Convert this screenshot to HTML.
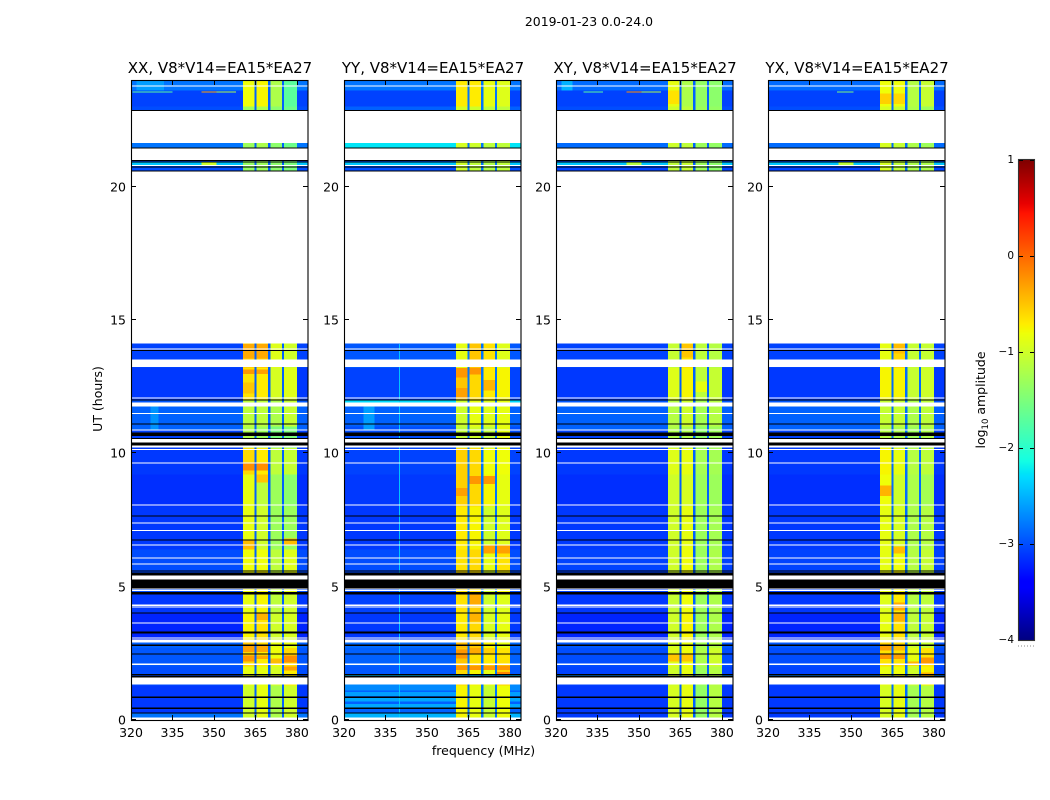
<!DOCTYPE html>
<html lang="en">
<head>
<meta charset="utf-8">
<title>2019-01-23 0.0-24.0</title>
<style>
html,body{margin:0;padding:0;background:#fff;width:1050px;height:800px;overflow:hidden}
svg{display:block}
text{font-family:"DejaVu Sans","Liberation Sans",sans-serif;fill:#000}
</style>
</head>
<body>
<svg id="figure" xmlns="http://www.w3.org/2000/svg" width="1050" height="800" viewBox="0 0 1050 800"></svg>
<script>
const panelTitles = ['XX, V8*V14=EA15*EA27', 'YY, V8*V14=EA15*EA27', 'XY, V8*V14=EA15*EA27', 'YX, V8*V14=EA15*EA27'];
const panelNames = ['xx', 'yy', 'xy', 'yx'];
const xTicks = [320, 335, 350, 365, 380];
const yTicks = [0, 5, 10, 15, 20];
const colorTicks = [1, 0, -1, -2, -3, -4];

// Frequency bands (MHz): background, four bright sub-bands, background
const bandEdges = [320, 360.5, 365, 370, 375, 380, 384];
const bandColumn = [0, 1, 2, 3, 4, 0];
const gapChannels = [365, 370, 375];
const gapAmps = [-2.9, -2.8, -2.9, -2.85];

// Time blocks (hours)
const timeEdges = [0, 1.3, 2.0, 2.7, 3.0, 4.0, 4.8, 5.6, 6.4, 8.0, 9.2, 10.2, 11, 12, 13.2, 14.2, 20.5, 21.5, 23, 24];

// log10 amplitude per time block: [background, band1, band2, band3, band4]
const ampXX = [
 [-3.1,-1.0,-.85,-1.2,-1.0],[-3.0,-.85,-.85,-.95,-.7],[-2.95,-.6,-.7,-.8,-.6],[-2.9,-.5,-.6,-.85,-.85],
 [-3.2,-.75,-.65,-1.0,-.95],[-3.1,-.85,-.75,-1.1,-1.0],[-3.0,-.8,-.75,-1.1,-.85],[-3.0,-.8,-.8,-1.1,-.9],
 [-3.1,-.85,-1.0,-1.3,-1.3],[-3.15,-.85,-1.1,-1.3,-1.4],[-3.1,-.6,-.7,-1.1,-1.05],[-3.05,-1.2,-1.3,-1.5,-1.5],
 [-2.95,-1.1,-1.1,-1.2,-1.05],[-3.1,-.65,-.7,-.95,-.9],[-3.05,-.55,-.55,-.9,-1.0],[-3,-3,-3,-3,-3],
 [-3.0,-1.35,-1.3,-1.4,-1.5],[-3.0,-1.3,-1.2,-1.4,-1.6],[-3.05,-.8,-.75,-1.2,-1.7]];
const ampYY = [
 [-2.9,-.75,-.85,-1.05,-.8],[-2.95,-.6,-.75,-.85,-.55],[-2.9,-.5,-.65,-.7,-.65],[-2.85,-.45,-.5,-.75,-.85],
 [-3.1,-.7,-.6,-.95,-.85],[-3.05,-.65,-.55,-1.0,-.9],[-3.0,-.65,-.65,-1.0,-.75],[-3.0,-.65,-.6,-.85,-.65],
 [-3.1,-.7,-.75,-1.0,-.9],[-3.1,-.55,-.6,-.75,-.85],[-3.05,-.55,-.6,-.8,-.8],[-3.0,-1.1,-1.0,-1.1,-.85],
 [-2.9,-1.0,-.85,-.9,-.85],[-3.05,-.5,-.6,-.7,-.75],[-2.95,-.85,-.5,-.65,-.9],[-3,-3,-3,-3,-3],
 [-3.0,-1.0,-1.1,-1.2,-1.1],[-2.9,-.95,-1.0,-1.1,-1.1],[-3.05,-.7,-.7,-.85,-.9]];
const ampXY = [
 [-3.1,-.95,-.85,-1.35,-1.15],[-3.05,-1.0,-.85,-1.3,-1.15],[-3.0,-.9,-.8,-1.2,-1.0],[-2.95,-.95,-.85,-1.25,-1.15],
 [-3.2,-1.0,-.75,-1.3,-1.2],[-3.1,-1.05,-.8,-1.3,-1.2],[-3.05,-1.0,-.8,-1.25,-1.2],[-3.05,-1.0,-.8,-1.3,-1.2],
 [-3.1,-1.0,-.85,-1.3,-1.25],[-3.15,-1.0,-.95,-1.3,-1.3],[-3.1,-.9,-.85,-1.25,-1.25],[-3.05,-1.2,-1.2,-1.4,-1.3],
 [-2.95,-1.15,-1.0,-1.25,-1.15],[-3.1,-.9,-.75,-1.1,-1.05],[-3.05,-1.05,-.65,-1.1,-1.15],[-3,-3,-3,-3,-3],
 [-3.05,-1.1,-1.05,-1.3,-1.4],[-3.0,-1.0,-1.1,-1.3,-1.35],[-3.05,-.85,-1.2,-1.35,-1.4]];
const ampYX = [
 [-3.1,-.95,-.85,-1.25,-1.15],[-3.05,-.85,-.8,-1.0,-.75],[-3.0,-.65,-.65,-.85,-.65],[-2.95,-.55,-.6,-1.0,-1.05],
 [-3.2,-.85,-.65,-1.1,-1.05],[-3.1,-.9,-.7,-1.15,-1.1],[-3.05,-.85,-.75,-1.15,-1.1],[-3.05,-.85,-.8,-1.15,-1.05],
 [-3.1,-.85,-.95,-1.2,-1.15],[-3.15,-.8,-1.0,-1.2,-1.25],[-3.1,-.75,-.85,-1.15,-1.1],[-3.05,-1.15,-1.2,-1.3,-1.2],
 [-2.95,-1.05,-1.05,-1.2,-1.1],[-3.1,-.75,-.75,-1.05,-1.0],[-3.05,-.85,-.6,-1.05,-1.05],[-3,-3,-3,-3,-3],
 [-3.05,-.95,-1.1,-1.2,-1.2],[-3.0,-.95,-1.05,-1.2,-1.3],[-3.05,-.8,-.8,-1.15,-1.05]];
const panelAmps = [ampXX, ampYY, ampXY, ampYX];

// Localised features: [freq1, freq2, hour1, hour2, log10 amplitude]
const patchesXX = [
 [360.5,365,2.55,2.78,-.3],[365,370,2.55,2.78,-.35],[360.5,365,2.2,2.42,-.25],[365,370,2.28,2.42,-.35],
 [370,375,2.1,2.3,-.45],[375,380,2.15,2.42,-.2],[375,380,1.85,2.0,-.3],[365,370,3.75,4.0,-.4],
 [360.5,365,13.55,14.1,-.35],[365,370,13.55,14.1,-.35],[360.5,365,12.98,13.15,-.25],[365,370,12.98,13.15,-.3],
 [360.5,365,12.25,12.65,-.5],[360.5,365,9.35,9.65,-.2],[365,370,9.35,9.65,-.2],[365,370,8.9,9.2,-.5],
 [360.5,365,6.4,6.75,-.45],[375,380,6.55,6.8,-.45],[327,330,10.85,11.8,-2.65],[322,332,23.6,24,-2.6],
 [345.5,351,20.82,20.9,-1.0],[320.5,335,23.53,23.57,-1.7],[345.5,351,23.53,23.57,-.3],[351,358,23.53,23.57,-1.2]];
const patchesYY = [
 [360.5,365,12.85,13.2,-.25],[365,370,12.95,13.2,-.25],[360.5,365,12.1,12.45,-.3],[370,375,12.35,12.75,-.4],
 [360.5,365,8.4,8.7,-.3],[365,370,8.85,9.15,-.25],[370,375,8.85,9.15,-.25],[370,375,6.25,6.55,-.3],[375,380,6.25,6.55,-.3],
 [360.5,380,1.88,2.05,-.25],[375,380,1.6,1.8,-.15],[360.5,365,2.3,2.65,-.25],[365,370,3.7,4.0,-.4],[365,370,4.3,4.7,-.35],
 [365,370,2.5,2.7,-.35],[370,375,2.5,2.7,-.55],[339.8,340.2,0.1,14.1,-2.4],[327,331,10.85,11.8,-2.6],[320,384,1.6,1.72,-2.4]];
const patchesXY = [
 [360.5,365,2.2,2.5,-.5],[365,370,2.2,2.5,-.5],[365,370,13.6,14.1,-.5],[360.5,365,23.1,23.6,-.65],
 [345.5,351,20.82,20.9,-1.15],[322,326,23.6,24,-2.5],[370,375,12.3,12.7,-.85],[330,337,23.53,23.57,-1.7],[345.5,351,23.53,23.57,-.2],[351,358,23.53,23.57,-1.2]];
const patchesYX = [
 [360.5,365,2.6,2.82,-.3],[365,370,2.6,2.82,-.45],[360.5,365,2.28,2.48,-.25],[365,370,2.28,2.48,-.3],
 [375,380,2.1,2.35,-.25],[370,375,2.05,2.2,-.4],[375,380,1.62,1.78,-.4],[365,370,4.1,4.4,-.35],[365,370,3.7,4.0,-.4],
 [360.5,365,8.4,8.8,-.4],[365,370,13.75,14.1,-.45],[365,370,6.25,6.5,-.45],[360.5,365,23.1,23.5,-.55],[365,370,23.1,23.5,-.6],
 [345.5,351,20.82,20.9,-1.1],[345,351,23.53,23.57,-1.5]];
const panelPatches = [patchesXX, patchesYY, patchesXY, patchesYX];

// Row tints that cross the background: [hour1, hour2, log10 amplitude]
const rowTintsXX = [[10.85,11.78,-2.9],[20.82,20.9,-2.4],[21.45,21.66,-2.8],[23.6,24,-2.8],[0.1,0.25,-2.8]];
const rowTintsYY = [[0.1,0.27,-2.5],[0.45,0.6,-2.55],[0.7,0.85,-2.55],[0.9,1.05,-2.6],[1.1,1.33,-2.7],[11.9,12,-2.3],[21.45,21.66,-2.25],[20.82,20.9,-2.4],[23.6,24,-2.8]];
const rowTintsXY = [[10.85,11.78,-2.9],[20.82,20.9,-2.4],[21.45,21.66,-2.85],[23.6,24,-2.85],[1.6,1.72,-2.7]];
const rowTintsYX = [[10.85,11.78,-2.9],[20.82,20.9,-2.4],[21.45,21.66,-2.85],[23.6,24,-2.85],[1.6,1.72,-2.75]];
const panelRowTints = [rowTintsXX, rowTintsYY, rowTintsXY, rowTintsYX];

// Flagged time ranges shared by every panel
const blackBands = [
 [.25,.29],[.42,.46],[.83,.89],[1.6,1.67],[1.69,1.73],[2.45,2.49],[2.78,2.83],[3.25,3.31],[4.0,4.04],
 [4.71,4.8],[4.93,5.27],[5.42,5.53],[5.56,5.6],[6.73,6.77],[7.63,7.67],[10.29,10.41],[10.54,10.58],[10.65,10.79],
 [11.08,11.12],[11.98,12.02],[13.83,13.87],[20.56,20.61],[20.71,20.75],[20.9,20.94],[20.96,21.0],[21.43,21.47],[22.83,22.87]];
const whiteBands = [
 [0,.09],[1.33,1.59],[2.06,2.11],[2.9,3.02],[3.06,3.1],[3.61,3.65],[4.21,4.25],[4.27,4.33],[4.83,4.87],[4.9,4.93],
 [5.27,5.42],[5.83,5.87],[6.06,6.1],[6.55,6.59],[7.09,7.13],[7.37,7.41],[8.05,8.09],[9.62,9.66],[10.12,10.16],
 [10.21,10.29],[10.41,10.54],[10.86,10.9],[11.47,11.51],[11.76,11.9],[12.06,12.1],[13.24,13.51],[13.89,13.93],
 [14.11,20.56],[20.78,20.82],[21.0,21.43],[21.64,21.68],[21.68,22.83],[23.76,23.8]];

const panelLefts = [131, 344, 556, 768];
const panelWidth = 177;
const plotTop = 80;
const plotBottom = 720;
const freqMin = 320, freqMax = 384, hourMin = 0, hourMax = 24;
const colorMin = -4, colorMax = 1;

// Matplotlib "jet" colormap control points: [position, level]
const jetRed = [[0,0],[.35,0],[.66,1],[.89,1],[1,.5]];
const jetGreen = [[0,0],[.125,0],[.375,1],[.64,1],[.91,0],[1,0]];
const jetBlue = [[0,.5],[.11,1],[.34,1],[.65,0],[1,0]];

const SVG_NS = 'http://www.w3.org/2000/svg';
const fig = document.getElementById('figure');

function xScale(left, f){ return left + (f - freqMin) / (freqMax - freqMin) * panelWidth; }
function yScale(h){ return plotBottom - (h - hourMin) / (hourMax - hourMin) * (plotBottom - plotTop); }
function clamp01(v){ return Math.max(0, Math.min(1, v)); }
function interp(points, t){
  for (let i = 1; i < points.length; i++) {
    if (t <= points[i][0]) {
      const a = points[i-1], b = points[i];
      return a[1] + (b[1] - a[1]) * (t - a[0]) / (b[0] - a[0]);
    }
  }
  return points[points.length-1][1];
}
function jet(v){
  const t = clamp01((v - colorMin) / (colorMax - colorMin));
  return 'rgb(' + Math.round(interp(jetRed, t)*255) + ',' + Math.round(interp(jetGreen, t)*255) + ',' + Math.round(interp(jetBlue, t)*255) + ')';
}
function make(tag, attrs, parent){
  const el = document.createElementNS(SVG_NS, tag);
  for (const k in attrs) el.setAttribute(k, attrs[k]);
  (parent || fig).appendChild(el);
  return el;
}
function band(parent, left, f1, f2, h1, h2, fill){
  const x1 = xScale(left, f1), x2 = xScale(left, f2);
  const y1 = yScale(Math.max(h1, h2)), y2 = yScale(Math.min(h1, h2));
  return make('rect', {x: x1, y: y1, width: x2 - x1, height: Math.max(y2 - y1, 1), fill: fill, 'shape-rendering': 'crispEdges'}, parent);
}
function label(parent, x, y, str, size, anchor){
  const el = make('text', {x: x, y: y, 'font-size': size, 'text-anchor': anchor}, parent);
  el.textContent = String(str).replace('-', '\u2212');
  return el;
}

panelTitles.forEach(function(titleText, p){
  const left = panelLefts[p];
  const amps = panelAmps[p];
  const g = make('g', {});
  
  

  // time-block × band cells
  amps.forEach(function(row, b){
    bandColumn.forEach(function(col, c){
      const cell = band(g, left, bandEdges[c], bandEdges[c+1], timeEdges[b], timeEdges[b+1], jet(row[col]));
      
      
    });
  });
  // row tints across the background channels only
  panelRowTints[p].forEach(function(t){
    [[bandEdges[0], bandEdges[1]], [bandEdges[5], bandEdges[6]]].forEach(function(span){
      const el = band(g, left, span[0], span[1], t[0], t[1], jet(t[2]));
      
      
    });
  });
  // localised features
  panelPatches[p].forEach(function(q){
    const el = band(g, left, q[0], q[1], q[2], q[3], jet(q[4]));
    
    
  });
  // dark channel gaps
  gapChannels.forEach(function(f){
    const el = band(g, left, f - 0.4, f + 0.4, hourMin, hourMax, jet(gapAmps[p]));
    
    
  });
  // flagged rows
  blackBands.forEach(function(r){
    const el = band(g, left, freqMin, freqMax, r[0], r[1], '#000');
    
    
  });
  whiteBands.forEach(function(r){
    const el = band(g, left, freqMin, freqMax, r[0], r[1], '#fff');
    
    
  });

  // ticks
  xTicks.forEach(function(v){
    const x = Math.round(xScale(left, v)) + 0.5;
    const t1 = make('line', {x1: x, x2: x, y1: plotBottom, y2: plotBottom - 5, stroke: '#000', 'stroke-width': 1}, g);
    
    
    const t2 = make('line', {x1: x, x2: x, y1: plotTop, y2: plotTop + 5, stroke: '#000', 'stroke-width': 1}, g);
    
    
    const tl = label(g, xScale(left, v), plotBottom + 17, v, 12.5, 'middle');
    
    
  });
  yTicks.forEach(function(v){
    const y = Math.round(yScale(v)) - 0.5;
    const t1 = make('line', {x1: left, x2: left + 5, y1: y, y2: y, stroke: '#000', 'stroke-width': 1}, g);
    
    
    const t2 = make('line', {x1: left + panelWidth, x2: left + panelWidth - 5, y1: y, y2: y, stroke: '#000', 'stroke-width': 1}, g);
    
    
    const tl = label(g, left - 5, y + 5, v, 12.5, 'end');
    
    
  });

  // frame
  const frame = make('rect', {x: left + 0.5, y: plotTop + 0.5, width: panelWidth - 1 + 0.5, height: plotBottom - plotTop, fill: 'none', stroke: '#000', 'stroke-width': 1.1}, g);
  
  

  const title = make('text', {x: left + panelWidth / 2 + 0.5, y: 73, 'font-size': 15, 'text-anchor': 'middle'}, g);
  title.textContent = titleText;
  
  
});

// Figure labels
const supTitle = make('text', {x: 589, y: 26, 'font-size': 12.45, 'text-anchor': 'middle'});
supTitle.textContent = '2019-01-23 0.0-24.0';



const xLabel = make('text', {x: 483.5, y: 755, 'font-size': 12.5, 'text-anchor': 'middle'});
xLabel.textContent = 'frequency (MHz)';



const yLabel = make('text', {x: 0, y: 0, 'font-size': 12.5, 'text-anchor': 'middle', transform: 'translate(102 399) rotate(-90)'});
yLabel.textContent = 'UT (hours)';



// Colour bar
const cbLeft = 1019, cbWidth = 15, cbTop = 160, cbBottom = 640;
const cbGroup = make('g', {});


function cbY(v){ return cbBottom - (v - colorMin) / (colorMax - colorMin) * (cbBottom - cbTop); }
for (let i = 0; i < 240; i++) {
  const v0 = colorMin + (colorMax - colorMin) * i / 240;
  const v1 = colorMin + (colorMax - colorMin) * (i + 1) / 240;
  const seg = make('rect', {x: cbLeft, y: cbY(v1), width: cbWidth, height: cbY(v0) - cbY(v1) + 0.4, fill: jet((v0 + v1) / 2), 'shape-rendering': 'crispEdges'}, cbGroup);
  
  
}
colorTicks.forEach(function(v){
  const y = Math.round(cbY(v)) + 0.5;
  const lt = make('line', {x1: cbLeft, x2: cbLeft + 4, y1: y, y2: y, stroke: '#000'}, cbGroup);
  
  
  const rt = make('line', {x1: cbLeft + cbWidth, x2: cbLeft + cbWidth - 4, y1: y, y2: y, stroke: '#000'}, cbGroup);
  
  
  const tl = label(cbGroup, cbLeft - 5, cbY(v) + 3, v, 10.5, 'end');
  
  
});
const cbFrame = make('rect', {x: cbLeft - 0.5, y: cbTop - 0.5, width: cbWidth + 1, height: cbBottom - cbTop + 1, fill: 'none', stroke: '#333', 'stroke-width': 1.1}, cbGroup);


const cbDots = make('line', {x1: 1018, x2: 1035, y1: 646, y2: 646, stroke: '#888', 'stroke-width': 1, 'stroke-dasharray': '1 2'}, cbGroup);



const cbLabel = make('text', {x: 0, y: 0, 'font-size': 12.5, 'text-anchor': 'middle', transform: 'translate(985 400) rotate(-90)'}, cbGroup);


const cbLog = make('tspan', {}, cbLabel);
cbLog.textContent = 'log';
const cbSub = make('tspan', {'font-size': 8.5, dy: 3}, cbLabel);
cbSub.textContent = '10';
const cbRest = make('tspan', {dy: -3}, cbLabel);
cbRest.textContent = ' amplitude';
</script>
</body>
</html>
